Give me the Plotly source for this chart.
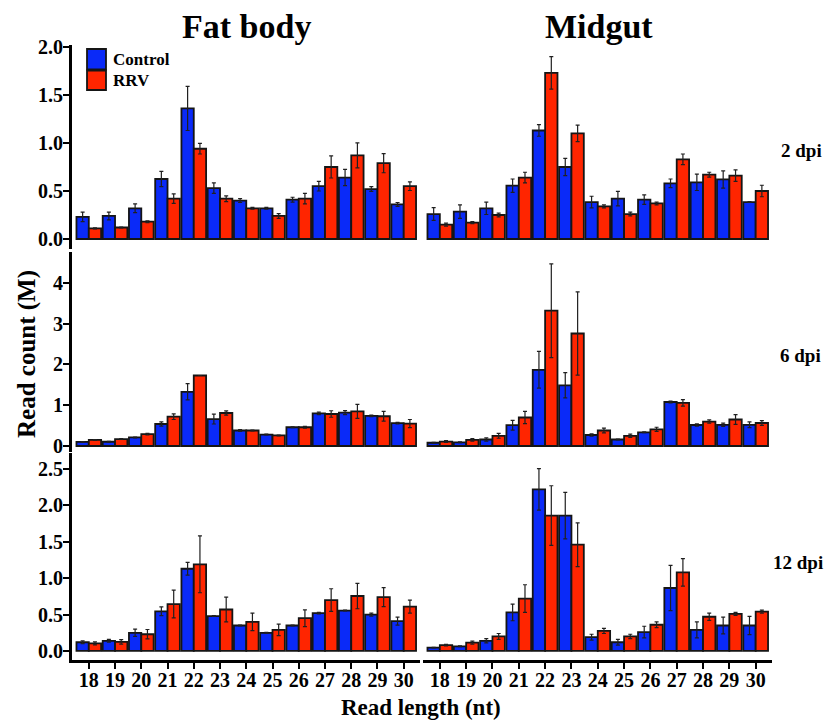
import plotly.graph_objects as go

W, H = 829, 722

lengths = list(range(18, 31))
tick_labels = [str(v) for v in lengths]
tissues = ["Fat body", "Midgut"]
timepoints = ["2 dpi", "6 dpi", "12 dpi"]
series_names = ["Control", "RRV"]

# ---- 2 dpi ----
fat2_ctrl = [0.23, 0.24, 0.32, 0.625, 1.36, 0.53, 0.40, 0.32, 0.41, 0.55, 0.64, 0.52, 0.36]
fat2_ctrl_err = [0.05, 0.04, 0.045, 0.08, 0.23, 0.055, 0.02, 0.01, 0.025, 0.05, 0.085, 0.025, 0.02]
fat2_rrv = [0.11, 0.12, 0.18, 0.42, 0.94, 0.42, 0.32, 0.24, 0.42, 0.75, 0.87, 0.79, 0.55]
fat2_rrv_err = [0.005, 0.005, 0.01, 0.05, 0.055, 0.03, 0.01, 0.025, 0.055, 0.115, 0.13, 0.10, 0.045]
mid2_ctrl = [0.26, 0.285, 0.32, 0.555, 1.13, 0.75, 0.385, 0.42, 0.41, 0.58, 0.59, 0.62, 0.385]
mid2_ctrl_err = [0.066, 0.07, 0.065, 0.07, 0.06, 0.09, 0.06, 0.075, 0.05, 0.045, 0.085, 0.09, 0.005]
mid2_rrv = [0.15, 0.17, 0.25, 0.64, 1.73, 1.10, 0.34, 0.26, 0.37, 0.83, 0.67, 0.66, 0.50]
mid2_rrv_err = [0.015, 0.01, 0.02, 0.055, 0.17, 0.085, 0.015, 0.02, 0.015, 0.055, 0.025, 0.06, 0.06]

# ---- 6 dpi ----
fat6_ctrl = [0.10, 0.105, 0.21, 0.54, 1.33, 0.66, 0.38, 0.28, 0.46, 0.80, 0.82, 0.74, 0.56]
fat6_ctrl_err = [0.01, 0.01, 0.01, 0.05, 0.20, 0.12, 0.02, 0.01, 0.01, 0.03, 0.05, 0.02, 0.02]
fat6_rrv = [0.15, 0.17, 0.29, 0.72, 1.73, 0.81, 0.38, 0.26, 0.46, 0.785, 0.85, 0.73, 0.55]
fat6_rrv_err = [0.01, 0.01, 0.02, 0.07, 0.0, 0.05, 0.01, 0.01, 0.02, 0.08, 0.17, 0.12, 0.10]
mid6_ctrl = [0.08, 0.09, 0.16, 0.51, 1.87, 1.49, 0.27, 0.16, 0.335, 1.08, 0.515, 0.52, 0.52]
mid6_ctrl_err = [0.01, 0.01, 0.04, 0.12, 0.45, 0.31, 0.03, 0.01, 0.01, 0.02, 0.03, 0.04, 0.07]
mid6_rrv = [0.11, 0.15, 0.25, 0.70, 3.32, 2.76, 0.38, 0.25, 0.41, 1.06, 0.60, 0.65, 0.565]
mid6_rrv_err = [0.02, 0.03, 0.06, 0.15, 1.15, 1.02, 0.06, 0.04, 0.05, 0.08, 0.04, 0.12, 0.06]

# ---- 12 dpi ----
fat12_ctrl = [0.12, 0.14, 0.25, 0.545, 1.13, 0.48, 0.35, 0.25, 0.35, 0.52, 0.555, 0.50, 0.41]
fat12_ctrl_err = [0.02, 0.02, 0.05, 0.06, 0.087, 0.005, 0.005, 0.005, 0.005, 0.01, 0.005, 0.02, 0.055]
fat12_rrv = [0.105, 0.125, 0.23, 0.645, 1.19, 0.57, 0.40, 0.29, 0.45, 0.70, 0.755, 0.74, 0.61]
fat12_rrv_err = [0.02, 0.03, 0.065, 0.19, 0.39, 0.17, 0.12, 0.08, 0.115, 0.155, 0.175, 0.13, 0.09]
mid12_ctrl = [0.046, 0.064, 0.14, 0.53, 2.22, 1.86, 0.19, 0.12, 0.26, 0.865, 0.29, 0.35, 0.35]
mid12_ctrl_err = [0.005, 0.005, 0.03, 0.115, 0.285, 0.32, 0.04, 0.04, 0.08, 0.31, 0.11, 0.115, 0.125]
mid12_rrv = [0.08, 0.115, 0.20, 0.72, 1.86, 1.46, 0.275, 0.20, 0.36, 1.08, 0.47, 0.51, 0.54]
mid12_rrv_err = [0.01, 0.02, 0.04, 0.19, 0.41, 0.30, 0.035, 0.03, 0.04, 0.19, 0.05, 0.02, 0.02]

panels = [
    [(fat2_ctrl, fat2_ctrl_err, fat2_rrv, fat2_rrv_err), (mid2_ctrl, mid2_ctrl_err, mid2_rrv, mid2_rrv_err)],
    [(fat6_ctrl, fat6_ctrl_err, fat6_rrv, fat6_rrv_err), (mid6_ctrl, mid6_ctrl_err, mid6_rrv, mid6_rrv_err)],
    [(fat12_ctrl, fat12_ctrl_err, fat12_rrv, fat12_rrv_err), (mid12_ctrl, mid12_ctrl_err, mid12_rrv, mid12_rrv_err)],
]

row_ranges = [[-0.104, 2.02], [-0.147, 4.76], [-0.124, 2.72]]
row_ticks = [[0, 0.5, 1.0, 1.5, 2.0], [0, 1, 2, 3, 4], [0, 0.5, 1.0, 1.5, 2.0, 2.5]]
row_fmt = [".1f", "d", ".1f"]
row_px = [(45, 249), (252, 452), (453, 660)]
col_px = [(72, 420), (423, 772)]
x_range = [17.36, 30.62]

colors = ["#0a2af8", "#ff2500"]
FONT = "Liberation Serif"

def fx(x):
    return x / W

def fy(y):
    return 1 - y / H

fig = go.Figure()
layout = dict()
for r in range(3):
    for c in range(2):
        k = r * 2 + c + 1
        xs = "" if k == 1 else str(k)
        ctrl, ctrl_e, rrv, rrv_e = panels[r][c]
        for vals, errs, name, col in [(ctrl, ctrl_e, "Control", colors[0]), (rrv, rrv_e, "RRV", colors[1])]:
            fig.add_trace(go.Bar(
                x=lengths, y=vals, name=name, showlegend=False,
                marker=dict(color=col, line=dict(color="#151515", width=1.8)),
                error_y=dict(type="data", array=errs, symmetric=True, color="#202020", thickness=1.2, width=2),
                offsetgroup=name, xaxis="x" + xs, yaxis="y" + xs,
            ))
        bottom = r == 2
        layout["xaxis" + xs] = dict(
            domain=[fx(col_px[c][0]), fx(col_px[c][1])], anchor="y" + xs,
            range=x_range, tickmode="array", tickvals=lengths, ticktext=tick_labels,
            showline=bottom, linecolor="black", linewidth=3,
            ticks="outside" if bottom else "", ticklen=6, tickwidth=2, tickcolor="black",
            showticklabels=bottom, ticklabelstandoff=-6,
            tickfont=dict(family=FONT, size=20, color="black", weight="bold"),
            showgrid=False, zeroline=False, automargin=False, fixedrange=True,
        )
        left = c == 0
        layout["yaxis" + xs] = dict(
            domain=[fy(row_px[r][1]), fy(row_px[r][0])], anchor="x" + xs,
            range=row_ranges[r], tickmode="array", tickvals=row_ticks[r], tickformat=row_fmt[r],
            showline=left, linecolor="black", linewidth=3,
            ticks="outside" if left else "", ticklen=6, tickwidth=2, tickcolor="black",
            showticklabels=left, ticklabelstandoff=-4,
            tickfont=dict(family=FONT, size=20, color="black", weight="bold"),
            showgrid=False, zeroline=False, automargin=False, fixedrange=True,
        )

annotations = []
def txt(text, x, y, size, xanchor="center", angle=0):
    annotations.append(dict(text=text, x=fx(x), y=fy(y), xref="paper", yref="paper",
                            showarrow=False, xanchor=xanchor, yanchor="middle", textangle=angle,
                            font=dict(family=FONT, size=size, color="black", weight="bold")))

txt(tissues[0], 246, 27, 34)
txt(tissues[1], 599, 27, 34)
txt(timepoints[0], 801, 150, 19)
txt(timepoints[1], 800, 355, 19)
txt(timepoints[2], 798, 562, 19)
txt("Read length (nt)", 421, 707, 23)
txt("Read count (M)", 27, 354, 25, angle=-90)
txt(series_names[0], 111, 59, 17, xanchor="left")
txt(series_names[1], 111, 80, 17, xanchor="left")

shapes = [
    dict(type="rect", xref="paper", yref="paper", x0=fx(87), x1=fx(106), y0=fy(69.5), y1=fy(49),
         fillcolor=colors[0], line=dict(color="#151515", width=1.8)),
    dict(type="rect", xref="paper", yref="paper", x0=fx(87), x1=fx(106), y0=fy(90), y1=fy(70.5),
         fillcolor=colors[1], line=dict(color="#151515", width=1.8)),
]

fig.update_layout(
    width=W, height=H, margin=dict(l=0, r=0, t=0, b=0),
    template="none", paper_bgcolor="white", plot_bgcolor="white",
    barmode="group", bargap=0.06, bargroupgap=0.0,
    showlegend=False, annotations=annotations, shapes=shapes,
    font=dict(family=FONT, color="black"),
    **layout,
)

fig.write_html("out.html")
